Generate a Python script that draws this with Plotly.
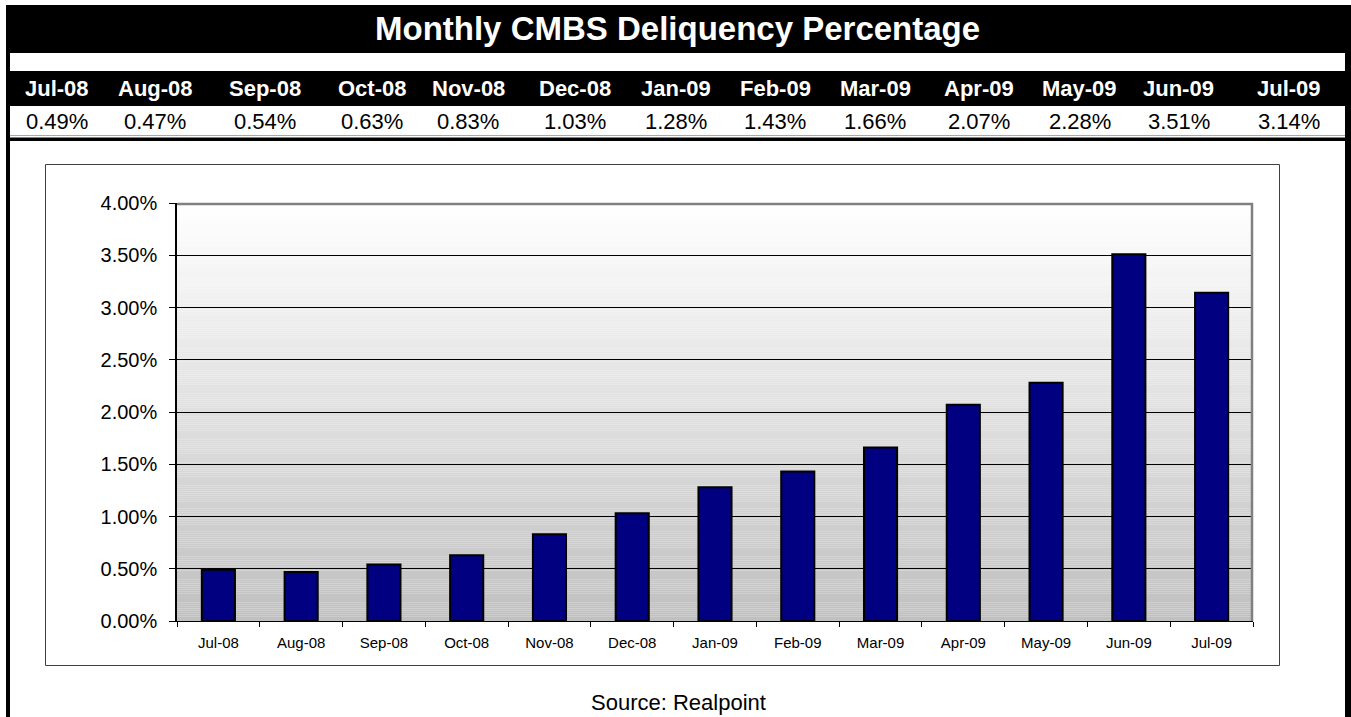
import plotly.graph_objects as go

# ---- data ----
months = ["Jul-08", "Aug-08", "Sep-08", "Oct-08", "Nov-08", "Dec-08", "Jan-09",
          "Feb-09", "Mar-09", "Apr-09", "May-09", "Jun-09", "Jul-09"]
delinquency_pct = [0.49, 0.47, 0.54, 0.63, 0.83, 1.03, 1.28, 1.43, 1.66, 2.07, 2.28, 3.51, 3.14]
y_tick_vals = [0, 0.5, 1.0, 1.5, 2.0, 2.5, 3.0, 3.5, 4.0]
y_tick_text = [f"{v:.2f}%" for v in y_tick_vals]
title_text = "Monthly CMBS Deliquency Percentage"
source_text = "Source: Realpoint"

# ---- layout helpers (pixel geometry of the page) ----
W, H = 1351, 717
FONT = "Liberation Sans, Arial, sans-serif"


def px(x):
    return x / W


def py(y):
    return 1 - y / H


# header column centres (pixels)
col_centres = [56.5, 155, 265, 371.5, 468, 574.5, 676, 775, 875.5, 979, 1079.5, 1178.5, 1288.5]

plot_x0, plot_x1 = 177, 1253
plot_y0, plot_y1 = 203, 621

fig = go.Figure()
fig.add_trace(go.Bar(
    x=months, y=delinquency_pct,
    marker=dict(color="#000080", line=dict(color="black", width=2)),
    width=0.4, hoverinfo="x+y",
))

shapes = []


def rect(x0, y0, x1, y1, fill="black", line_color=None, lw=0, layer="above"):
    d = dict(type="rect", xref="paper", yref="paper",
             x0=px(x0), x1=px(x1), y0=py(y1), y1=py(y0), layer=layer,
             fillcolor=fill, line=dict(width=lw, color=line_color or "rgba(0,0,0,0)"))
    shapes.append(d)


# frame pieces
rect(6, 5, 1345, 53)           # title bar
rect(6, 5, 10, 717)            # left border
rect(1345, 5, 1351, 717)       # right border
rect(6, 71, 1351, 106)         # header row
rect(6, 137.5, 1351, 141)      # rule below values
shapes.append(dict(type="line", xref="paper", yref="paper", x0=px(10), x1=px(1345),
                   y0=py(135.5), y1=py(135.5), line=dict(color="#a8a8a8", width=1)))
# chart box
shapes.append(dict(type="rect", xref="paper", yref="paper", x0=px(45.5), x1=px(1279.5),
                   y0=py(665.5), y1=py(164.5), line=dict(color="#404040", width=1),
                   fillcolor="rgba(0,0,0,0)", layer="below"))

# gradient background in plot area
n = 200
top_v, bot_v = 4.0, 0.0
for i in range(n):
    a = bot_v + (top_v - bot_v) * i / n
    b = bot_v + (top_v - bot_v) * (i + 1) / n
    t = (i + 0.5) / n  # 0 bottom, 1 top
    g = int(round(192 + (255 - 192) * t))
    c = f"rgb({g},{g},{g})"
    shapes.append(dict(type="rect", xref="x domain", yref="y", x0=0, x1=1, y0=a, y1=b,
                       fillcolor=c, line=dict(width=0), layer="below"))

# gray top/right plot border
shapes.append(dict(type="line", xref="paper", yref="paper", x0=px(plot_x0), x1=px(plot_x1),
                   y0=py(plot_y0 + 1), y1=py(plot_y0 + 1), line=dict(color="#808080", width=2.5)))
shapes.append(dict(type="line", xref="paper", yref="paper", x0=px(plot_x1 - 1), x1=px(plot_x1 - 1),
                   y0=py(plot_y0), y1=py(plot_y1), line=dict(color="#808080", width=2.5)))

annotations = []
annotations.append(dict(text=f"<b>{title_text}</b>", xref="paper", yref="paper",
                        x=px(677.5), y=py(28.5), showarrow=False, xanchor="center", yanchor="middle",
                        font=dict(family=FONT, size=33, color="white")))
for m, v, cx in zip(months, delinquency_pct, col_centres):
    annotations.append(dict(text=f"<b>{m}</b>", xref="paper", yref="paper", x=px(cx), y=py(88.5),
                            showarrow=False, xanchor="center", yanchor="middle",
                            font=dict(family=FONT, size=22, color="white")))
    annotations.append(dict(text=f"{v:.2f}%", xref="paper", yref="paper", x=px(cx), y=py(121.5),
                            showarrow=False, xanchor="center", yanchor="middle",
                            font=dict(family=FONT, size=22, color="black")))
annotations.append(dict(text=source_text, xref="paper", yref="paper", x=px(678.7), y=py(702),
                        showarrow=False, xanchor="center", yanchor="middle",
                        font=dict(family=FONT, size=22, color="black")))

fig.update_layout(
    template="none",
    width=W, height=H, autosize=False,
    margin=dict(l=0, r=0, t=0, b=0, pad=0, autoexpand=False),
    paper_bgcolor="white", plot_bgcolor="rgba(0,0,0,0)",
    showlegend=False, bargap=0.6,
    shapes=shapes, annotations=annotations,
    font=dict(family=FONT, color="black"),
    xaxis=dict(domain=[px(plot_x0), px(plot_x1)], showline=True, linecolor="black", linewidth=1,
               ticks="outside", tickson="boundaries", ticklen=5, tickcolor="black",
               ticklabelstandoff=8,
               tickfont=dict(family=FONT, size=15, color="black"), showgrid=False,
               zeroline=False, fixedrange=True, automargin=False),
    yaxis=dict(domain=[py(plot_y1), py(plot_y0)], range=[0, 4], tickmode="array",
               tickvals=y_tick_vals, ticktext=y_tick_text,
               showgrid=True, gridcolor="black", gridwidth=1, showline=True, linecolor="black",
               linewidth=1.5, ticks="outside", ticklen=6, tickcolor="black",
               ticklabelstandoff=8, automargin=False,
               tickfont=dict(family=FONT, size=20, color="black"), zeroline=False, fixedrange=True),
)

fig.write_html(
    "out.html",
    config={"responsive": False, "displayModeBar": False},
    post_script="document.body.style.margin='0';document.documentElement.style.overflow='hidden';",
)
